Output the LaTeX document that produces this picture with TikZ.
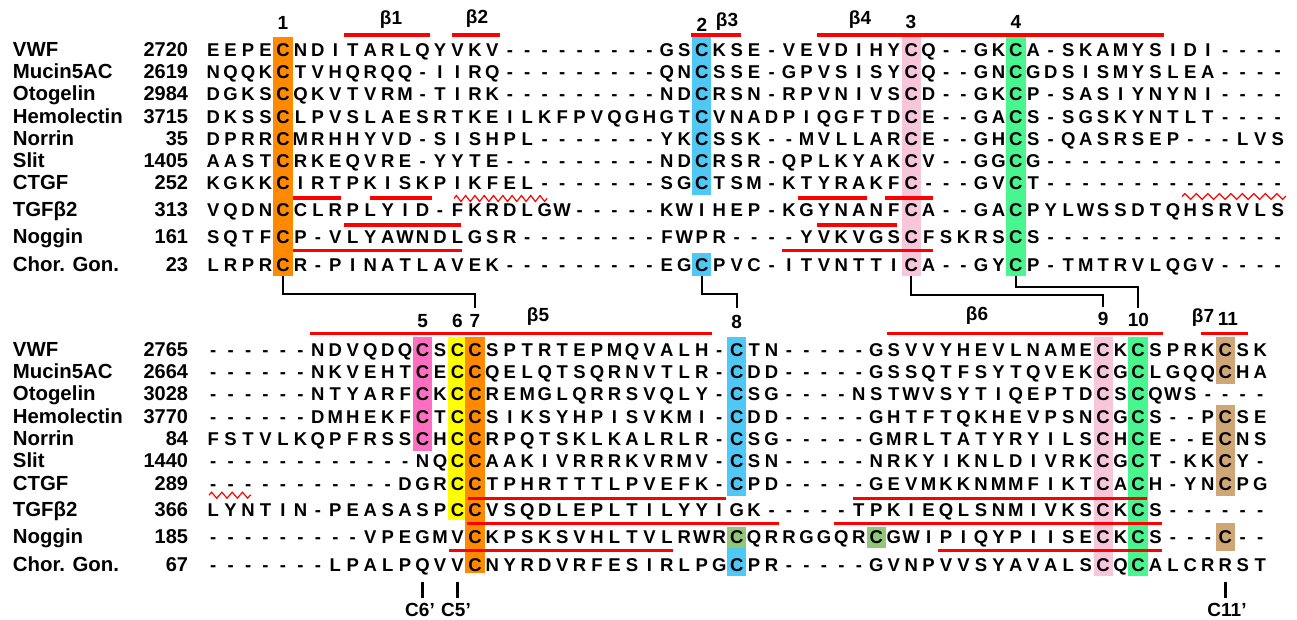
\documentclass[tikz,border=0pt]{standalone}
\usepackage{fontspec}
\setmainfont{Liberation Sans}
\usetikzlibrary{positioning,decorations.pathmorphing}

\definecolor{cysorange}{HTML}{FF8A00}
\definecolor{cysblue}{HTML}{4FC8F5}
\definecolor{cyspink}{HTML}{F8C6DA}
\definecolor{cysgreen}{HTML}{48F58E}
\definecolor{cysmagenta}{HTML}{FF6EC0}
\definecolor{cysyellow}{HTML}{FFFF00}
\definecolor{cysolive}{HTML}{92C77A}
\definecolor{cystan}{HTML}{CFA676}

\newcommand\hlbox[5]{\node[hl,fill=#2,minimum height={#5-#4}] (#1) at ({213.2+(#3-1)*17.45},{(#4+#5)/2}) {};}

\ExplSyntaxOn
\int_new:N \l_alncol_int
\str_new:N \l_alnseq_str
\NewDocumentCommand \alnrow { m m m m m }
  {
    \node[rowname] (#1name) at (12.7,#2) {#3};
    \node[rownum] (#1num) at (188.3,#2) {#4};
    \str_set:Nx \l_alnseq_str {#5}
    \int_zero:N \l_alncol_int
    \str_map_inline:Nn \l_alnseq_str
      {
        \int_incr:N \l_alncol_int
        \node[res] (#1c\int_use:N \l_alncol_int)
          at (\fp_eval:n {213.2+(\l_alncol_int-1)*17.45}, #2) {##1};
      }
  }
\ExplSyntaxOff

\begin{document}
\begin{tikzpicture}[x=1pt,y=-1pt,
  res/.style={anchor=base,inner sep=0pt,font=\fontsize{18.5}{20}\selectfont\bfseries},
  rowname/.style={anchor=base west,inner sep=0pt,font=\fontsize{20.4}{22}\selectfont\bfseries},
  rownum/.style={anchor=base east,inner sep=0pt,font=\fontsize{20}{22}\selectfont\bfseries},
  cyslab/.style={inner sep=0pt,font=\fontsize{19}{20}\selectfont\bfseries},
  hl/.style={inner sep=0pt,minimum width=19.2pt,draw=none},
  strand/.style={red,line width=3.2pt},
  wave/.style={red,line width=1.2pt,decorate,decoration={zigzag,amplitude=3pt,segment length=#1}},
  bond/.style={line width=2pt},
  tickmk/.style={line width=3.3pt}]

  \useasboundingbox (0,0) rectangle (1297,620);

  % cysteine columns
  \hlbox{hC1}{cysorange}{5}{37.5}{275.7}
  \hlbox{hC2}{cysblue}{29}{37.5}{195.5}
  \hlbox{hC2b}{cysblue}{29}{253.3}{275.7}
  \hlbox{hC3}{cyspink}{41}{37.5}{275.7}
  \hlbox{hC4}{cysgreen}{47}{37.5}{275.7}

  \hlbox{hC5}{cysmagenta}{13}{336.7}{451}
  \hlbox{hC6}{cysyellow}{15}{336.7}{520}
  \hlbox{hC7}{cysorange}{16}{336.7}{572.7}
  \hlbox{hC8}{cysblue}{31}{336.7}{495.7}
  \hlbox{hC8b}{cysolive}{31}{527.3}{548.3}
  \hlbox{hC8c}{cysblue}{31}{548.3}{575.7}
  \hlbox{hNog}{cysolive}{39}{527.3}{548.3}
  \hlbox{hC9}{cyspink}{52}{336.7}{575.7}
  \hlbox{hC10}{cysgreen}{54}{336.7}{575.7}
  \hlbox{hC11}{cystan}{59}{336.7}{384.3}
  \hlbox{hC11b}{cystan}{59}{405}{495.7}
  \hlbox{hC11c}{cystan}{59}{523.3}{550.7}

  \alnrow{t1}{56.2}{VWF}{2720}{EEPECNDITARLQYVKV---------GSCKSE-VEVDIHYCQ--GKCA-SKAMYSIDI----}
  \alnrow{t2}{78.5}{Mucin5AC}{2619}{NQQKCTVHQRQQ-IIRQ---------QNCSSE-GPVSISYCQ--GNCGDSISMYSLEA----}
  \alnrow{t3}{100.8}{Otogelin}{2984}{DGKSCQKVTVRM-TIRK---------NDCRSN-RPVNIVSCD--GKCP-SASIYNYNI----}
  \alnrow{t4}{123.1}{Hemolectin}{3715}{DKSSCLPVSLAESRTKEILKFPVQGHGTCVNADPIQGFTDCE--GACS-SGSKYNTLT----}
  \alnrow{t5}{145.4}{Norrin}{35}{DPRRCMRHHYVD-SISHPL-------YKCSSK--MVLLARCE--GHCS-QASRSEP---LVS}
  \alnrow{t6}{167.7}{Slit}{1405}{AASTCRKEQVRE-YYTE---------NDCRSR-QPLKYAKCV--GGCG--------------}
  \alnrow{t7}{190}{CTGF}{252}{KGKKCIRTPKISKPIKFEL-------SGCTSM-KTYRAKFC---GVCT--------------}
  \alnrow{t8}{216.7}{TGFβ2}{313}{VQDNCCLRPLYID-FKRDLGW-----KWIHEP-KGYNANFCA--GACPYLWSSDTQHSRVLS}
  \alnrow{t9}{243.7}{Noggin}{161}{SQTFCP-VLYAWNDLGSR--------FWPR----YVKVGSCFSKRSCS--------------}
  \alnrow{t10}{271.2}{Chor. Gon.}{23}{LRPRCR-PINATLAVEK---------EGCPVC-ITVNTTICA--GYCP-TMTRVLQGV----}

  \alnrow{b1}{356.2}{VWF}{2765}{------NDVQDQCSCCSPTRTEPMQVALH-CTN-----GSVVYHEVLNAMECKCSPRKCSK}
  \alnrow{b2}{378.5}{Mucin5AC}{2664}{------NKVEHTCECCQELQTSQRNVTLR-CDD-----GSSQTFSYTQVEKCGCLGQQCHA}
  \alnrow{b3}{400.8}{Otogelin}{3028}{------NTYARFCKCCREMGLQRRSVQLY-CSG----NSTWVSYTIQEPTDCSCQWS----}
  \alnrow{b4}{423.1}{Hemolectin}{3770}{------DMHEKFCTCCSIKSYHPISVKMI-CDD-----GHTFTQKHEVPSNCGCS--PCSE}
  \alnrow{b5}{445.4}{Norrin}{84}{FSTVLKQPFRSSCHCCRPQTSKLKALRLR-CSG-----GMRLTATYRYILSCHCE--ECNS}
  \alnrow{b6}{467.7}{Slit}{1440}{------------NQCCAAKIVRRRKVRMV-CSN-----NRKYIKNLDIVRKCGCT-KKCY-}
  \alnrow{b7}{490}{CTGF}{289}{-----------DGRCCTPHRTTTLPVEFK-CPD-----GEVMKKNMMFIKTCACH-YNCPG}
  \alnrow{b8}{516.7}{TGFβ2}{366}{LYNTIN-PEASASPCCVSQDLEPLTILYYIGK-----TPKIEQLSNMIVKSCKCS------}
  \alnrow{b9}{543.7}{Noggin}{185}{---------VPEGMVCKPSKSVHLTVLRWRCQRRGGQRCGWIPIQYPIISECKCS---C--}
  \alnrow{b10}{571.2}{Chor. Gon.}{67}{-------LPALPQVVCNYRDVRFESIRLPGCPR-----GVNPVVSYAVALSCQCALCRRST}

  % labels above the blocks
  \node[cyslab] (n1) at (283.0,23.3) {1};
  \node[cyslab] (s1) at (391,20) {β1};
  \node[cyslab] (s2) at (477,18.5) {β2};
  \node[cyslab] (n2) at (702,25) {2};
  \node[cyslab] (s3) at (727,21.5) {β3};
  \node[cyslab] (s4) at (860,20) {β4};
  \node[cyslab] (n3) at (911,21.7) {3};
  \node[cyslab] (n4) at (1016,21.7) {4};

  \node[cyslab] (n5) at (422.6,321) {5};
  \node[cyslab] (n6) at (457.5,321) {6};
  \node[cyslab] (n7) at (475,321) {7};
  \node[cyslab] (s5) at (538,317) {β5};
  \node[cyslab] (n8) at (736.7,321.5) {8};
  \node[cyslab] (s6) at (977,316) {β6};
  \node[cyslab] (n9) at (1103.2,318.5) {9};
  \node[cyslab] (n10) at (1138.3,319.5) {10};
  \node[cyslab] (s7) at (1203,318) {β7};
  \node[cyslab] (n11) at (1228,318.5) {11};

  % strands
  \draw[strand] (344,35) -- (430,35);
  \draw[strand] (452,35) -- (500,35);
  \draw[strand] (691,35) -- (741,35);
  \draw[strand] (817,35) -- (1164,35);
  \draw[strand] (293,198) -- (341,198);
  \draw[strand] (370,198) -- (432,198);
  \draw[strand] (798,198) -- (867,198);
  \draw[strand] (885,198) -- (933,198);
  \draw[strand] (344,225) -- (461,225);
  \draw[strand] (817,225) -- (897,225);
  \draw[strand] (293,250.7) -- (462,250.7);
  \draw[strand] (782,250.7) -- (933,250.7);
  \draw[wave=9.3pt] (454,198.5) -- (547,198.5);
  \draw[wave=11.5pt] (1182,196.5) -- (1286,196.5);

  \draw[strand] (310,333.5) -- (712,333.5);
  \draw[strand] (887,333.5) -- (1163,333.5);
  \draw[strand] (1201,333.5) -- (1248,333.5);
  \draw[strand] (468,498.5) -- (726,498.5);
  \draw[strand] (853,498.5) -- (1147,498.5);
  \draw[strand] (467,523.5) -- (779,523.5);
  \draw[strand] (834,523.5) -- (1162,523.5);
  \draw[strand] (449,550.3) -- (673,550.3);
  \draw[strand] (938,550.3) -- (1162,550.3);
  \draw[wave=10.3pt] (209,495.2) -- (251,495.2);

  % disulfides
  \draw[bond,shorten >=6.5pt] (hC1.south) -- ++(0,18.5) -| (n7.north);
  \draw[bond,shorten >=7pt] (hC2b.south) -- ++(0,18.5) -| (n8.north);
  \draw[bond,shorten >=4.5pt] (hC3.south) -- ++(0,19) -| (n9.north);
  \draw[bond,shorten >=5pt] (hC4.south) -- ++(0,11) -| (n10.north);

  \node[cyslab] (c6p) at (420,609.5) {C6’};
  \node[cyslab] (c5p) at (456,609.5) {C5’};
  \node[cyslab] (c11p) at (1227,609.5) {C11’};
  \draw[tickmk] ([yshift=-10.5pt]b10c13.base) -- ([yshift=5pt]b10c13.base |- c6p.north);
  \draw[tickmk] ([yshift=-10.5pt]b10c15.base) -- ([yshift=5pt]b10c15.base |- c5p.north);
  \draw[tickmk] ([yshift=-10.5pt]b10c59.base) -- ([yshift=5pt]b10c59.base |- c11p.north);
\end{tikzpicture}
\end{document}
